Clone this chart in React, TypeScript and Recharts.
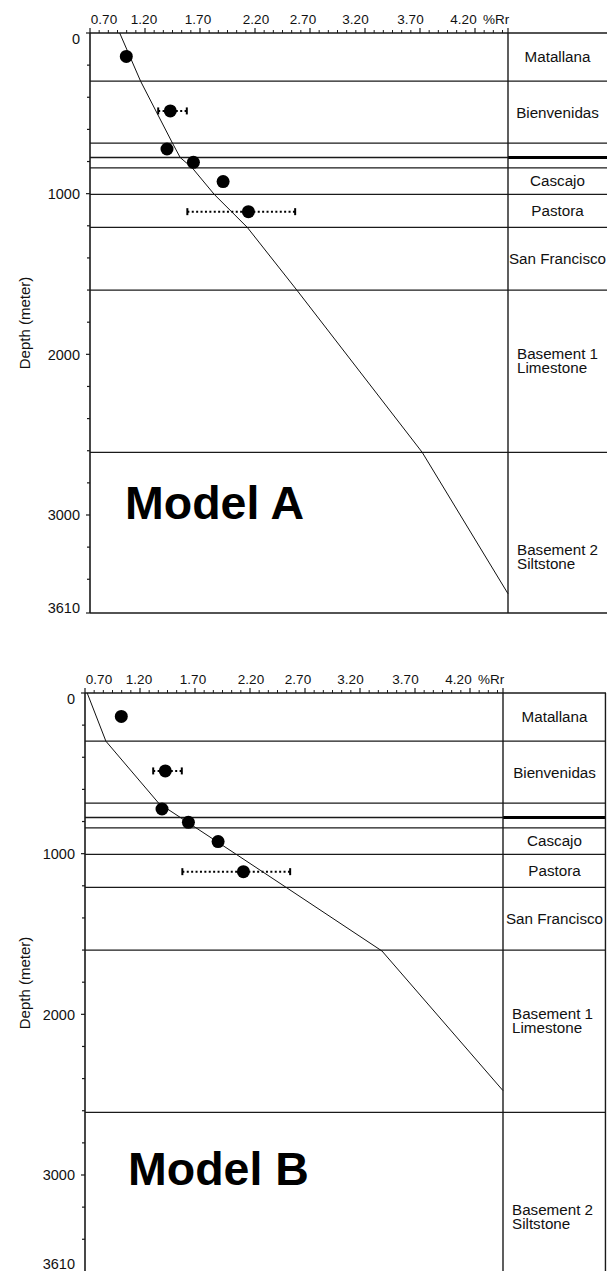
import React from 'react';
import { ComposedChart, XAxis, YAxis, Scatter, ErrorBar, ReferenceLine, ReferenceArea } from 'recharts';

const FONT = '"Liberation Sans", Arial, Helvetica, sans-serif';
const INK = '#1a1a1a';

// measured vitrinite reflectance (same samples on both panels)
const sampleDepth = [146, 485, 722, 805, 925, 1112];
const sampleRr = [1.03, 1.43, 1.4, 1.64, 1.91, 2.14];
const sampleRrLow = [null, 1.32, null, null, null, 1.585];
const sampleRrHigh = [null, 1.58, null, null, null, 2.565];

// modelled maturity curves
const modelADepth = [0, 300, 686, 775, 840, 1005, 1210, 1600, 2610, 3490];
const modelARr = [0.97, 1.16, 1.45, 1.52, 1.63, 1.83, 2.13, 2.58, 3.72, 4.5];
const modelBDepth = [0, 300, 686, 1002, 1206, 1606, 2475];
const modelBRr = [0.72, 0.89, 1.37, 2.07, 2.52, 3.4, 4.5];

// stratigraphy
const formationNames = ['Matallana', 'Bienvenidas', '', '', 'Cascajo', 'Pastora', 'San Francisco', 'Basement 1\nLimestone', 'Basement 2\nSiltstone'];
const formationTop = [0, 300, 686, 775, 840, 1005, 1210, 1600, 2610];
const formationBase = [300, 686, 775, 840, 1005, 1210, 1600, 2610, 3610];
const formationLabelDepth = [150, 493, 0, 0, 922, 1108, 1405, 2040, 3260];

// axes
const xMajorTicks = [0.7, 1.2, 1.7, 2.2, 2.7, 3.2, 3.7, 4.2, 4.5];
const xMajorLabels = ['0.70', '1.20', '1.70', '2.20', '2.70', '3.20', '3.70', '4.20', '%Rr'];
const yMajorTicks = [0, 1000, 2000, 3000, 3610];
const yMinorTicks = [200, 400, 600, 800, 1200, 1400, 1600, 1800, 2200, 2400, 2600, 2800, 3200, 3400];

const xMinorTicks = Array.from({ length: 45 }, (_, i) => +(0.7 + (i + 1) / 12).toFixed(4))
  .filter(v => !xMajorTicks.some(m => Math.abs(m - v) < 0.001));
const xTicks = [...xMajorTicks, ...xMinorTicks].sort((a, b) => a - b);
const yTicks = [...yMajorTicks, ...yMinorTicks].sort((a, b) => a - b);

const samples = sampleDepth.map((d, i) => ({ rr: sampleRr[i], depth: d }));
const errSamples = sampleDepth
  .map((d, i) => ({ rr: sampleRr[i], depth: d, lo: sampleRrLow[i], hi: sampleRrHigh[i] }))
  .filter(s => s.lo != null)
  .map(s => ({ rr: s.rr, depth: s.depth, err: [s.rr - (s.lo as number), (s.hi as number) - s.rr] }));
const errCaps = errSamples.flatMap(s => [
  { rr: s.rr - s.err[0], depth: s.depth },
  { rr: s.rr + s.err[1], depth: s.depth },
]);

const X_NUDGE = [14, -1, -2, 1, -7, -9.5, -9.5, -11.5, -12];

function XTick(props: any) {
  const { x, y, payload } = props;
  const i = xMajorTicks.findIndex(m => Math.abs(m - payload.value) < 1e-6);
  if (i < 0) return <line x1={x} x2={x} y1={y} y2={y - 3} stroke={INK} strokeWidth={1} />;
  return (
    <g>
      <line x1={x} x2={x} y1={y} y2={y - 5} stroke={INK} strokeWidth={1.2} />
      <text x={x + X_NUDGE[i]} y={y - 9} textAnchor="middle" fontSize={13.5} fontFamily={FONT} fill="#111">
        {xMajorLabels[i]}
      </text>
    </g>
  );
}

function YTick(props: any) {
  const { x, y, payload, bottomDy } = props;
  const v = payload.value;
  const major = yMajorTicks.includes(v);
  const dy = v === 0 ? 6 : v === 3610 ? bottomDy : 0;
  return (
    <g>
      <line x1={x} x2={x - (major ? 4 : 3)} y1={y} y2={y} stroke={INK} strokeWidth={1.2} />
      {major && (
        <text x={x - 10} y={y + dy} dy="0.36em" textAnchor="end" fontSize={14.5} fontFamily={FONT} fill="#111">
          {v}
        </text>
      )}
    </g>
  );
}

const depthLabel = (props: any) => {
  const { x, y, height } = props.viewBox;
  const cx = x + 25;
  const cy = y + height / 2;
  return (
    <text x={cx} y={cy} transform={`rotate(-90 ${cx} ${cy})`} textAnchor="middle" dy="0.35em" fontSize={15} fontFamily={FONT} fill="#111">
      Depth (meter)
    </text>
  );
};

const formationLabel = (name: string, top: number, base: number, at: number) => (props: any) => {
  const { x, y, width, height } = props.viewBox;
  const cy = y + ((at - top) / (base - top)) * height;
  const lines = name.split('\n');
  const multi = lines.length > 1;
  const tx = multi ? x + 9 : x + width / 2;
  return (
    <text x={tx} y={cy} textAnchor={multi ? 'start' : 'middle'} fontSize={15.2} fontFamily={FONT} fill="#111">
      {lines.map((l, i) => (
        <tspan key={l} x={tx} dy={i === 0 ? `${0.35 - (lines.length - 1) * 0.48}em` : '0.96em'}>
          {l}
        </tspan>
      ))}
    </text>
  );
};

const titleLabel = (title: string, dx: number, dy: number) => (props: any) => {
  const { x, y } = props.viewBox;
  return (
    <text x={x + dx} y={y + dy} fontSize={46.5} fontWeight="bold" fontFamily={FONT} fill="#000">
      {title}
    </text>
  );
};

const noDot = () => <g />;
const dot = (p: any) => <circle cx={p.cx} cy={p.cy} r={6.5} fill="#000" />;
const cap = (p: any) => <line x1={p.cx} x2={p.cx} y1={p.cy - 3.5} y2={p.cy + 3.5} stroke="#000" strokeWidth={2} />;

type PanelProps = {
  title: string,
  curveRr: number[],
  curveDepth: number[],
  axisWidth: number,
  rightMargin: number,
  titleDx: number,
  titleDy: number,
  rightFrame: boolean,
  bottomDy: number,
};

function DepthPanel({ title, curveRr, curveDepth, axisWidth, rightMargin, titleDx, titleDy, rightFrame, bottomDy }: PanelProps) {
  const W = 607;
  const plotW = W - axisWidth - rightMargin;
  const xMax = 0.7 + plotW / 110;
  const curve = curveDepth.map((d, i) => ({ rr: curveRr[i], depth: d }));

  return (
    <ComposedChart width={W} height={640} margin={{ top: 0, right: rightMargin, bottom: 27, left: 0 }}>
      <XAxis
        xAxisId={0}
        type="number"
        dataKey="rr"
        orientation="top"
        domain={[0.7, xMax]}
        ticks={xTicks}
        interval={0}
        height={33}
        tickSize={0}
        tickMargin={0}
        tickLine={false}
        tick={<XTick />}
        axisLine={{ stroke: INK, strokeWidth: 1.4 }}
        allowDataOverflow
      />
      <YAxis
        yAxisId={0}
        type="number"
        dataKey="depth"
        domain={[0, 3610]}
        reversed
        ticks={yTicks}
        interval={0}
        width={axisWidth}
        tickSize={0}
        tickMargin={0}
        tickLine={false}
        tick={<YTick bottomDy={bottomDy} />}
        axisLine={{ stroke: INK, strokeWidth: 1.6 }}
        label={depthLabel}
        allowDataOverflow
      />

      {formationNames.map((name, i) =>
        name ? (
          <ReferenceArea
            key={`f-${i}`}
            x1={4.5}
            x2={xMax}
            y1={formationTop[i]}
            y2={formationBase[i]}
            fill="#fff"
            fillOpacity={0}
            strokeOpacity={0}
            label={formationLabel(name, formationTop[i], formationBase[i], formationLabelDepth[i])}
          />
        ) : null
      )}
      <ReferenceArea
        x1={0.7}
        x2={4.5}
        y1={formationTop[8]}
        y2={formationBase[8]}
        fillOpacity={0}
        strokeOpacity={0}
        label={titleLabel(title, titleDx, titleDy)}
      />

      {formationTop.slice(1).map(d => (
        <ReferenceLine key={`b-${d}`} y={d} stroke={INK} strokeWidth={1.3} />
      ))}
      <ReferenceLine segment={[{ x: 4.5, y: 775 }, { x: xMax, y: 775 }]} stroke="#000" strokeWidth={3} />
      <ReferenceLine y={3610} stroke={INK} strokeWidth={1.6} />
      <ReferenceLine x={4.5} stroke={INK} strokeWidth={1.4} />
      {rightFrame && <ReferenceLine x={xMax - 0.005} stroke={INK} strokeWidth={1.4} />}

      <Scatter data={curve} line={{ stroke: '#111', strokeWidth: 1 }} lineType="joint" shape={noDot} isAnimationActive={false} />
      <Scatter data={errSamples} shape={noDot} isAnimationActive={false}>
        <ErrorBar dataKey="err" direction="x" width={0} stroke="#000" strokeWidth={2} strokeDasharray="2 2.4" isAnimationActive={false} />
      </Scatter>
      <Scatter data={errCaps} shape={cap} isAnimationActive={false} />
      <Scatter data={samples} shape={dot} isAnimationActive={false} />
    </ComposedChart>
  );
}

export default function App() {
  return (
    <div style={{ position: 'absolute', left: 0, top: 0, width: 607, height: 1271, overflow: 'hidden', background: '#fff' }}>
      <div style={{ position: 'absolute', left: 0, top: 0 }}>
        <DepthPanel
          title="Model A"
          curveRr={modelARr}
          curveDepth={modelADepth}
          axisWidth={90}
          rightMargin={0}
          titleDx={35}
          titleDy={67}
          rightFrame={false}
          bottomDy={-5}
        />
      </div>
      <div style={{ position: 'absolute', left: 0, top: 660 }}>
        <DepthPanel
          title="Model B"
          curveRr={modelBRr}
          curveDepth={modelBDepth}
          axisWidth={85}
          rightMargin={1}
          titleDx={43}
          titleDy={73}
          rightFrame={true}
          bottomDy={-9}
        />
      </div>
    </div>
  );
}
